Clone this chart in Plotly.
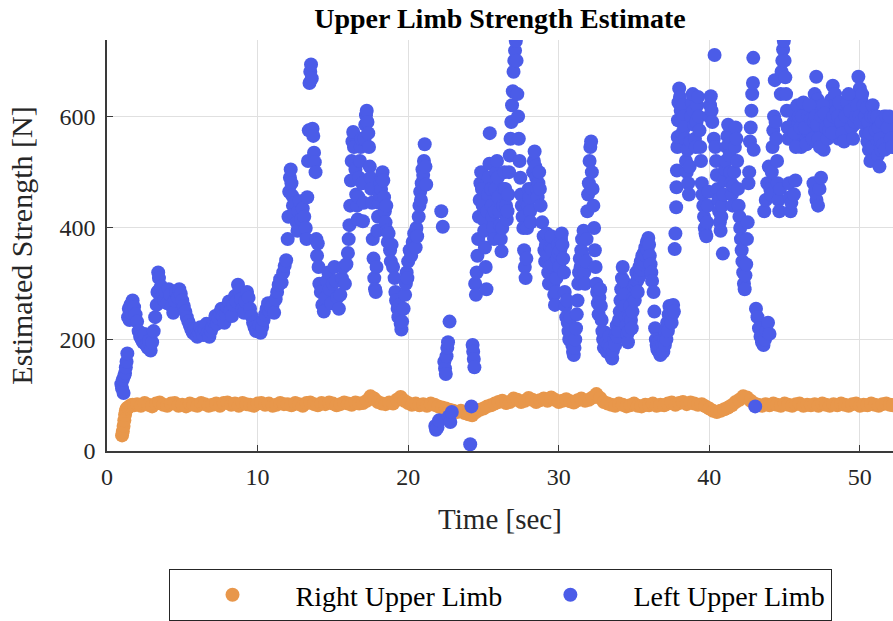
import plotly.graph_objects as go

# ---------------------------------------------------------------
# Right upper limb: estimated strength [N] over time [sec]
# ---------------------------------------------------------------
right_time = [
    1.0, 1.05, 1.1, 1.15, 1.2, 1.25, 1.3, 1.4, 1.5, 1.6, 1.7, 1.8,
    2.0, 2.25, 2.5, 2.75, 3.0, 3.25, 3.5, 3.75, 4.0, 4.25, 4.5, 4.75, 5.0, 5.25, 5.5, 5.75, 6.0, 6.25, 6.5, 6.75,
    7.0, 7.25, 7.5, 7.75, 8.0, 8.25, 8.5, 8.75, 9.0, 9.25, 9.5, 9.75, 10.0, 10.25, 10.5, 10.75, 11.0, 11.25, 11.5, 11.75,
    12.0, 12.25, 12.5, 12.75, 13.0, 13.25, 13.5, 13.75, 14.0, 14.25, 14.5, 14.75, 15.0, 15.25, 15.5, 15.75, 16.0, 16.25, 16.5, 16.75,
    17.0, 17.25, 17.5, 17.75, 18.0, 18.25, 18.5, 18.75, 19.0, 19.25, 19.5, 19.75, 20.0, 20.25, 20.5, 20.75, 21.0, 21.25, 21.5, 21.75,
    22.0, 22.25, 22.5, 22.75, 23.0, 23.25, 23.5, 23.75, 24.0, 24.25, 24.5, 24.75, 25.0, 25.25, 25.5, 25.75, 26.0, 26.25, 26.5, 26.75,
    27.0, 27.25, 27.5, 27.75, 28.0, 28.25, 28.5, 28.75, 29.0, 29.25, 29.5, 29.75, 30.0, 30.25, 30.5, 30.75, 31.0, 31.25, 31.5, 31.75,
    32.0, 32.25, 32.5, 32.75, 33.0, 33.25, 33.5, 33.75, 34.0, 34.25, 34.5, 34.75, 35.0, 35.25, 35.5, 35.75, 36.0, 36.25, 36.5, 36.75,
    37.0, 37.25, 37.5, 37.75, 38.0, 38.25, 38.5, 38.75, 39.0, 39.25, 39.5, 39.75, 40.0, 40.25, 40.5, 40.75, 41.0, 41.25, 41.5, 41.75,
    42.0, 42.25, 42.5, 42.75, 43.0, 43.25, 43.5, 43.75, 44.0, 44.25, 44.5, 44.75, 45.0, 45.25, 45.5, 45.75, 46.0, 46.25, 46.5, 46.75,
    47.0, 47.25, 47.5, 47.75, 48.0, 48.25, 48.5, 48.75, 49.0, 49.25, 49.5, 49.75, 50.0, 50.25, 50.5, 50.75, 51.0, 51.25, 51.5, 51.75,
    52.0, 52.2,
]
right_force = [
    28, 35, 45, 55, 65, 72, 76, 78, 80, 82, 83, 82,
    84, 81, 86, 83, 80, 85, 87, 83, 81, 85, 86, 81, 83, 80, 85, 83, 81, 86, 84, 81,
    83, 85, 81, 86, 87, 83, 85, 81, 86, 84, 83, 81, 85, 86, 83, 85, 81, 83, 86, 84,
    84, 82, 86, 84, 81, 86, 87, 84, 82, 86, 84, 87, 85, 82, 84, 87, 85, 83, 87, 85,
    86, 90, 98, 94, 88, 85, 84, 87, 85, 92, 97, 90, 86, 83, 85, 82, 84, 81, 85, 83,
    80, 78, 76, 74, 72, 70, 72, 68, 66, 64, 70, 74, 76, 80, 82, 85, 88, 90, 86, 88,
    94, 92, 88, 90, 95, 92, 88, 91, 94, 90, 96, 92, 88, 90, 93, 89, 87, 91, 94, 90,
    92, 96, 102, 95, 88, 85, 83, 81, 85, 83, 80, 82, 85, 81, 80, 83, 82, 85, 81, 83,
    82, 85, 87, 83, 86, 88, 84, 87, 85, 83, 84, 80, 76, 72, 70, 72, 75, 78, 82, 88,
    92, 98, 96, 90, 85, 83, 81, 84, 82, 85, 83, 81, 85, 83, 81, 84, 85, 81, 83, 82,
    84, 81, 85, 83, 81, 84, 82, 85, 83, 81, 84, 85, 81, 83, 82, 85, 83, 81, 84, 85,
    83, 82,
]

# ---------------------------------------------------------------
# Left upper limb: estimated strength [N] over time [sec]
# ---------------------------------------------------------------
left_time = [
    # start-up and first plateau
    0.95, 1.0, 1.05, 1.1, 1.15, 1.2, 1.25, 1.3, 1.35, 1.4, 1.45, 1.5, 1.55, 1.6, 1.7, 1.8, 1.9, 2.0, 2.1, 2.2,
    2.3, 2.4, 2.5, 2.6, 2.7, 2.8, 2.9, 3.0, 3.1, 3.2,
    3.3, 3.35, 3.4, 3.45, 3.5, 3.55, 3.6, 3.7, 3.8, 3.9, 4.0, 4.1, 4.2, 4.3, 4.4, 4.5, 4.6, 4.7, 4.8, 4.9,
    5.0, 5.1, 5.2, 5.3, 5.4, 5.5, 5.6, 5.7, 5.8, 5.9, 6.0, 6.1, 6.2, 6.3, 6.4, 6.5, 6.6, 6.7, 6.8, 6.9,
    7.0, 7.1, 7.2, 7.3, 7.4, 7.5, 7.6, 7.7, 7.8, 7.9, 8.0, 8.1, 8.2, 8.3, 8.4, 8.5, 8.6, 8.7, 8.8, 8.9,
    9.0, 9.1, 9.2, 9.3, 9.4, 9.5, 9.6, 9.7, 9.8, 9.9, 10.0, 10.1, 10.2, 10.3, 10.4, 10.5, 10.6, 10.7, 10.8, 10.9,
    11.0, 11.1, 11.2, 11.3, 11.4, 11.5, 11.6, 11.7, 11.8, 11.9,
    # first burst
    12.0, 12.05, 12.1, 12.15, 12.2, 12.25, 12.3, 12.35, 12.4, 12.5, 12.6, 12.65, 12.7, 12.8, 12.9, 13.0, 13.1, 13.2, 13.25, 13.3,
    13.35, 13.4, 13.45, 13.5, 13.55, 13.6, 13.65, 13.7, 13.75, 13.8, 13.85, 13.9, 13.95,
    14.0, 14.05, 14.1, 14.2, 14.3, 14.4, 14.5, 14.6, 14.7, 14.8, 14.9, 15.0, 15.1, 15.2, 15.3, 15.4, 15.5, 15.6, 15.7, 15.8, 15.9,
    16.0, 16.05, 16.1, 16.15, 16.2, 16.25, 16.3, 16.35, 16.4, 16.5, 16.55, 16.6, 16.65, 16.7, 16.75, 16.8, 16.85, 16.9, 16.95, 17.0,
    17.05, 17.1, 17.15, 17.2, 17.25, 17.3, 17.35, 17.4, 17.45, 17.5,
    17.55, 17.6, 17.65, 17.7, 17.75, 17.8, 17.85, 17.9, 17.95, 18.0, 18.05, 18.1, 18.15, 18.2, 18.25, 18.3, 18.35, 18.4, 18.45, 18.5,
    18.55, 18.6, 18.65, 18.7, 18.8, 18.85, 18.9, 19.0, 19.1, 19.15, 19.2, 19.3, 19.35, 19.4, 19.5, 19.55, 19.6, 19.7, 19.8, 19.85,
    19.9, 19.95, 20.0, 20.1, 20.2, 20.3, 20.4, 20.5, 20.55, 20.6, 20.7, 20.75, 20.8, 20.85, 20.9, 20.95, 21.0, 21.05, 21.1, 21.15, 21.2,
    # drop-outs
    21.8, 21.85, 21.95, 22.05, 22.2, 22.3, 22.4, 22.45, 22.5, 22.55, 22.6, 22.65, 22.7, 22.75, 22.8, 22.9,
    24.12, 24.2, 24.28, 24.32, 24.36, 24.4,
    24.45, 24.5, 24.55, 24.6, 24.65, 24.7, 24.75, 24.8, 24.85, 24.9, 24.95, 25.0, 25.05, 25.1, 25.15, 25.2, 25.25, 25.3, 25.35, 25.4,
    25.42, 25.5, 25.55, 25.6, 25.65, 25.7, 25.75, 25.8, 25.85,
    # second burst
    25.9, 25.95, 26.0, 26.05, 26.1, 26.15, 26.2, 26.25, 26.3, 26.35, 26.4, 26.45, 26.5, 26.55, 26.6, 26.65, 26.7, 26.75, 26.8, 26.85,
    26.9, 26.95, 27.0, 27.05, 27.1, 27.15, 27.2, 27.25, 27.3, 27.35, 27.4, 27.45, 27.5,
    27.55, 27.6, 27.65, 27.7, 27.75, 27.8, 27.85, 27.9, 27.95, 28.0, 28.05, 28.1, 28.15, 28.2, 28.3, 28.35, 28.4, 28.45, 28.5, 28.55,
    28.6, 28.65, 28.7, 28.75, 28.8, 28.9, 29.0, 29.05, 29.1, 29.15, 29.2,
    29.25, 29.3, 29.35, 29.4, 29.45, 29.5, 29.55, 29.6, 29.65, 29.7, 29.75, 29.8, 29.85, 29.9, 29.95, 30.0, 30.05, 30.1, 30.15, 30.2,
    30.25, 30.3, 30.35, 30.4, 30.45, 30.5, 30.55, 30.6, 30.65, 30.7, 30.75, 30.8, 30.85, 30.9, 30.95, 31.0, 31.05, 31.1, 31.15, 31.2,
    31.25, 31.3, 31.35, 31.4, 31.45, 31.5, 31.55, 31.6, 31.65, 31.7, 31.75, 31.8, 31.85, 31.9, 31.95, 32.0, 32.05, 32.1, 32.15, 32.2,
    32.25, 32.3, 32.35, 32.4, 32.45, 32.5, 32.55, 32.6, 32.65, 32.7, 32.75, 32.8, 32.85, 32.9, 32.95, 33.0, 33.05, 33.1, 33.15, 33.2,
    33.3, 33.35, 33.4, 33.5, 33.55, 33.6, 33.7, 33.75, 33.8, 33.85, 33.9, 33.95, 34.0, 34.05, 34.1, 34.15, 34.2, 34.25, 34.3, 34.35,
    34.4, 34.45, 34.5, 34.55, 34.6,
    34.65, 34.7, 34.75, 34.8, 34.85, 34.9, 34.95, 35.0, 35.05, 35.1, 35.15, 35.2, 35.25, 35.3, 35.35, 35.4, 35.45, 35.5, 35.55, 35.6,
    35.65, 35.7, 35.75, 35.8, 35.85, 35.9, 35.95, 36.0, 36.05, 36.1, 36.15, 36.2, 36.3, 36.35, 36.4, 36.45, 36.5, 36.55, 36.6, 36.65,
    36.7, 36.75, 36.8, 36.9, 36.95, 37.0, 37.05, 37.1, 37.15, 37.2, 37.25, 37.3, 37.35, 37.4,
    # third burst
    37.45, 37.5, 37.55, 37.6, 37.65, 37.7, 37.75, 37.8, 37.82, 37.85, 37.88, 37.9, 37.92, 37.95, 38.0, 38.05, 38.1, 38.15, 38.2, 38.25,
    38.3, 38.35, 38.4, 38.45, 38.5, 38.55, 38.6, 38.65, 38.7, 38.75, 38.8, 38.85, 38.9, 38.95, 39.0, 39.05, 39.1, 39.15, 39.2, 39.25,
    39.3, 39.35, 39.4, 39.45, 39.5, 39.55, 39.6, 39.65, 39.7, 39.75, 39.8, 39.85, 39.9, 39.95, 40.0, 40.05, 40.1, 40.15, 40.2, 40.3,
    40.35,
    40.4, 40.45, 40.5, 40.55, 40.6, 40.65, 40.7, 40.75, 40.8, 40.85, 40.9, 40.95, 41.0, 41.05, 41.1, 41.15, 41.2, 41.25, 41.3, 41.35,
    41.4, 41.45, 41.5, 41.55, 41.6, 41.65, 41.7, 41.75, 41.8, 41.85, 41.9, 41.95, 42.0, 42.05, 42.1, 42.15, 42.2, 42.25, 42.3, 42.35,
    42.4, 42.45, 42.5, 42.55, 42.6, 42.65, 42.7, 42.75, 42.8, 42.85, 42.9, 42.92, 42.95, 43.05,
    43.1, 43.2, 43.3, 43.4, 43.5, 43.6, 43.7, 43.8, 43.9, 44.0,
    43.65, 43.75, 43.85, 43.95, 44.05, 44.1, 44.15, 44.2, 44.25, 44.3, 44.35, 44.4, 44.45, 44.5, 44.55, 44.6, 44.65, 44.7, 44.75, 44.8,
    44.85, 44.9, 44.95, 45.0, 45.05, 45.1, 45.15, 45.2, 45.25, 45.3, 45.35, 45.4, 45.45,
    45.62, 45.72, 46.92, 47.02, 47.12, 47.22, 47.32, 47.42,
    # sustained high plateau
    45.5, 45.6, 45.7, 45.8, 45.9, 46.0, 46.1, 46.2, 46.3, 46.4, 46.5, 46.6, 46.7, 46.8, 46.9, 47.0, 47.1, 47.2, 47.3, 47.4,
    47.5, 47.6, 47.7, 47.8, 47.9, 48.0, 48.1, 48.2, 48.3, 48.4, 48.5, 48.6, 48.7, 48.8, 48.9, 49.0, 49.1, 49.2, 49.3, 49.4,
    49.5, 49.6, 49.7, 49.8, 49.9, 50.0, 50.1, 50.2, 50.3, 50.4, 50.5, 50.6, 50.7, 50.8, 50.9, 51.0, 51.1, 51.2, 51.3, 51.4,
    51.5, 51.6, 51.7, 51.8, 51.9, 52.0, 52.1, 52.2,
    45.55, 45.65, 45.75, 45.85, 45.95, 46.05, 46.15, 46.25, 46.35, 46.45, 46.55, 46.65, 46.75, 46.85, 46.95, 47.05, 47.15, 47.25, 47.35, 47.45,
    47.55, 47.65, 47.75, 47.85, 47.95, 48.05, 48.15, 48.25, 48.35, 48.45, 48.55, 48.65, 48.75, 48.85, 48.95, 49.05, 49.15, 49.25, 49.35, 49.45,
    49.55, 49.65, 49.75, 49.85, 49.95, 50.05, 50.15, 50.25, 50.35, 50.45, 50.55, 50.65, 50.75, 50.85, 50.95, 51.05, 51.15, 51.25, 51.35, 51.45,
    51.55, 51.65, 51.75, 51.85, 51.95, 52.05, 52.15,
]
left_force = [
    120, 112, 128, 104, 135, 140, 150, 160, 175, 240, 255, 235, 262, 248, 270, 258, 245, 232, 215, 205,
    200, 195, 210, 190, 185, 198, 180, 195, 215, 240,
    262, 285, 320, 310, 290, 275, 295, 280, 270, 285, 265, 290, 280, 260, 248, 270, 285, 275, 290, 282,
    270, 260, 250, 240, 232, 225, 218, 212, 218, 208, 205, 212, 222, 215, 208, 218, 228, 212, 205, 215,
    222, 232, 242, 228, 238, 248, 255, 242, 230, 245, 258, 268, 252, 242, 262, 278, 268, 298, 288, 272,
    255, 248, 268, 285, 275, 255, 242, 230, 222, 215, 218, 225, 212, 222, 235, 245, 255, 265, 250, 258,
    262, 248, 272, 285, 298, 308, 302, 320, 332, 342,
    380, 420, 465, 490, 505, 480, 458, 440, 425, 445, 410, 395, 430, 448, 415, 435, 420, 400, 380, 455,
    520, 575, 660, 680, 693, 668, 578, 565, 535, 518, 500, 380, 350,
    372, 330, 300, 285, 262, 250, 275, 305, 320, 290, 265, 300, 330, 305, 275, 255, 280, 310, 330, 300, 335,
    355, 380, 405, 440, 485, 520, 555, 572, 545, 505, 460, 440, 415, 455, 490, 520, 545, 560, 480, 412,
    445, 560, 585, 602, 610, 590, 570, 545, 510, 490,
    470, 445, 380, 345, 310, 290, 285, 330, 395, 420, 445, 460, 480, 470, 490, 500, 485, 455, 430, 410,
    440, 395, 375, 390, 360, 340, 370, 330, 310, 285, 270, 255, 240, 262, 228, 218, 232, 255, 280, 300,
    320, 310, 340, 360, 350, 375, 390, 365, 400, 385, 420, 440, 465, 450, 480, 505, 495, 520, 550, 510, 478,
    45, 38, 42, 55, 430, 402, 160, 148, 138, 170, 185, 195, 62, 232, 52, 70,
    12, 80, 190, 178, 165, 150,
    300, 280, 320, 350, 380, 420, 450, 480, 500, 470, 440, 415, 395, 365, 330, 290, 430, 460, 490, 515,
    570, 470, 440, 420, 400, 380, 430, 470, 500,
    520, 490, 455, 430, 405, 380, 358, 400, 440, 470, 500, 470, 440, 415, 430, 460, 500, 530, 560, 590,
    620, 645, 680, 700, 718, 735, 700, 640, 600, 560, 520, 490, 460,
    440, 420, 400, 360, 330, 310, 345, 400, 440, 470, 455, 430, 410, 470, 500, 520, 537, 510, 490, 470,
    455, 480, 500, 470, 440, 410, 385, 360, 340, 370, 390,
    350, 320, 300, 330, 365, 385, 360, 335, 300, 280, 262, 285, 310, 345, 370, 355, 330, 360, 380, 390,
    370, 345, 320, 285, 260, 240, 270, 230, 215, 200, 225, 240, 210, 190, 178, 172, 185, 200, 220, 245,
    270, 300, 320, 345, 330, 360, 380, 350, 395, 320, 300, 340, 380, 430, 460, 480, 520, 545, 555, 500,
    470, 440, 400, 360, 330, 300, 285, 265, 245, 275, 290, 260, 235, 215, 200, 185, 200, 212, 195, 178,
    190, 205, 185, 170, 166, 180, 200, 190, 210, 225, 205, 215, 235, 250, 270, 290, 310, 330, 305, 280,
    260, 240, 225, 210, 195,
    215, 240, 260, 235, 220, 250, 275, 295, 270, 300, 320, 305, 285, 310, 330, 315, 340, 325, 350, 335,
    355, 340, 365, 350, 375, 360, 382, 370, 350, 335, 320, 305, 285, 250, 220, 200, 190, 182, 195, 178,
    188, 172, 185, 192, 178, 200, 190, 215, 200, 230, 215, 245, 260, 240,
    255, 230, 245, 262, 250, 362, 390, 437, 473, 503, 545, 563, 593, 625, 650, 635, 610, 590, 570, 620,
    600, 580, 560, 520, 500, 540, 480, 460, 510, 555, 600, 625, 640, 610, 585, 560, 545, 590, 620, 635,
    600, 575, 545, 520, 480, 460, 440, 420, 400, 390, 385, 410, 440, 465, 600, 620, 636, 610, 590, 560,
    710,
    545, 520, 495, 470, 450, 430, 410, 395, 420, 440, 354, 460, 485, 505, 520, 545, 565, 585, 550, 530,
    500, 480, 460, 440, 475, 500, 545, 580, 560, 520, 470, 440, 420, 400, 380, 360, 340, 320, 300, 290,
    315, 335, 380, 410, 480, 500, 555, 580, 610, 640, 660, 705, 540, 80,
    255, 240, 220, 205, 195, 190, 200, 215, 230, 210,
    430, 450, 480, 510, 470, 460, 500, 545, 575, 600, 665, 590, 560, 520, 480, 450, 430, 470, 640, 680,
    700, 720, 735, 700, 670, 640, 610, 580, 560, 480, 455, 430, 445,
    460, 485, 480, 465, 450, 440, 470, 490,
    560, 590, 575, 600, 585, 560, 545, 570, 600, 615, 590, 570, 555, 580, 610, 640, 671, 630, 600, 575,
    550, 540, 565, 590, 610, 600, 630, 655, 620, 595, 580, 560, 575, 600, 615, 590, 570, 585, 605, 620,
    600, 585, 610, 635, 671, 650, 630, 610, 590, 570, 555, 540, 520, 545, 570, 590, 560, 530, 510, 540,
    575, 600, 585, 560, 545, 570, 590, 560,
    610, 570, 545, 620, 600, 580, 600, 625, 580, 550, 600, 620, 595, 560, 590, 600, 585, 560, 545, 600,
    620, 605, 580, 560, 575, 590, 570, 600, 640, 610, 600, 625, 590, 570, 555, 600, 625, 640, 610, 580,
    560, 590, 600, 620, 600, 590, 640, 620, 600, 615, 590, 570, 600, 620, 600, 575, 600, 580, 560, 590,
    550, 540, 600, 580, 600, 560, 545,
]

series_names = ["Right Upper Limb", "Left Upper Limb"]
series_colors = ["#E8974B", "#4B5CE8"]

x_ticks = [0, 10, 20, 30, 40, 50]
y_ticks = [0, 200, 400, 600]

font_family = "Liberation Serif, Times New Roman, serif"

fig = go.Figure()
fig.add_trace(go.Scatter(
    x=right_time, y=right_force, mode="markers", name=series_names[0],
    marker=dict(color=series_colors[0], size=14, line=dict(width=0)),
))
fig.add_trace(go.Scatter(
    x=left_time, y=left_force, mode="markers", name=series_names[1],
    marker=dict(color=series_colors[1], size=14, line=dict(width=0)),
))

axis_line = "#3a3a3a"
grid = "#e0e0e0"

fig.update_layout(
    width=893, height=621,
    margin=dict(l=107, r=0, t=40, b=168),
    paper_bgcolor="white", plot_bgcolor="white",
    font=dict(family=font_family, color="#262626"),
    title=dict(
        text="<b>Upper Limb Strength Estimate</b>",
        xref="paper", x=0.5, xanchor="center",
        yref="container", y=1 - 18 / 621, yanchor="middle",
        font=dict(size=28, color="#000000", family=font_family),
    ),
    xaxis=dict(
        range=[0, 52.2], tickvals=x_ticks, ticks="inside", ticklen=6, tickwidth=1.2,
        tickcolor=axis_line, showline=True, linecolor=axis_line, linewidth=1.5,
        showgrid=True, gridcolor=grid, gridwidth=1, zeroline=False,
        tickfont=dict(size=24, color="#262626"), ticklabelstandoff=3,
        title=dict(text="Time [sec]", font=dict(size=29, color="#262626"), standoff=20),
    ),
    yaxis=dict(
        range=[0, 737], tickvals=y_ticks, ticks="inside", ticklen=6, tickwidth=1.2,
        tickcolor=axis_line, showline=True, linecolor=axis_line, linewidth=1.5,
        showgrid=True, gridcolor=grid, gridwidth=1, zeroline=False,
        tickfont=dict(size=24, color="#262626"), ticklabelstandoff=5,
        title=dict(text="Estimated Strength [N]", font=dict(size=30, color="#262626"), standoff=18),
    ),
    legend=dict(
        orientation="h", x=0.5, xanchor="center", y=-0.288, yanchor="top",
        bordercolor="#262626", borderwidth=1, bgcolor="white",
        font=dict(size=28, color="#000000", family=font_family),
        itemsizing="trace", itemwidth=116,
    ),
    showlegend=True,
)

fig.write_html("out.html")
